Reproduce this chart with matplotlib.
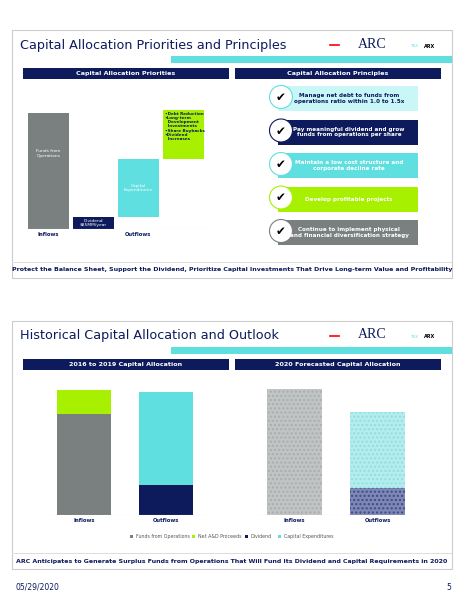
import matplotlib
matplotlib.use("Agg")
import matplotlib.pyplot as plt
from matplotlib.patches import Rectangle, Circle

W, H = 464, 600
NAVY, TEAL, GREEN, GREY = "#0d1a5c", "#5fdfe0", "#a6f000", "#7a7f80"

# slide 1 data (waterfall, arbitrary units)
wf_labels = ["Funds from\nOperations", "Dividend\n$85MM/year", "Capital\nExpenditures", ""]
wf_values = [116, 12, 58, 49]
green_text = "\u2022Debt Reduction\n\u2022Long-term\n  Development\n  Investments\n\u2022Share Buybacks\n\u2022Dividend\n  Increases"
principles = ["Manage net debt to funds from\noperations ratio within 1.0 to 1.5x",
              "Pay meaningful dividend and grow\nfunds from operations per share",
              "Maintain a low cost structure and\ncorporate decline rate",
              "Develop profitable projects",
              "Continue to implement physical\nand financial diversification strategy"]
principle_colors = ["#c9f7f7", NAVY, TEAL, GREEN, GREY]
principle_text = [NAVY, "white", "white", "white", "white"]

# slide 2 data
hist_ffo, hist_ad = 101, 24
hist_div, hist_capex = 30, 93
fc_ffo = 126
fc_div, fc_capex = 27, 76
legend_labels = ["Funds from Operations", "Net A&D Proceeds", "Dividend", "Capital Expenditures"]

fig = plt.figure(figsize=(W / 100, H / 100), dpi=100)
ax = fig.add_axes([0, 0, 1, 1])
ax.set_xlim(0, W); ax.set_ylim(H, 0); ax.axis("off")

def inset(x0, y0, x1, y1):
    a = fig.add_axes([x0 / W, 1 - y1 / H, (x1 - x0) / W, (y1 - y0) / H])
    a.axis("off")
    return a

def slide_frame(top, title, h1, h2, footer):
    ax.add_patch(Rectangle((12, top), 440, 248, fc="white", ec="#cccccc", lw=0.8))
    ax.add_patch(Rectangle((171, top + 26), 281, 7, fc=TEAL, ec="none"))
    ax.text(20, top + 15, title, fontsize=9.2, color=NAVY, va="center")
    ax.plot([330, 339], [top + 15, top + 15], color="red", lw=1.2)
    ax.text(372, top + 14, "ARC", fontsize=10, color=NAVY, va="center", ha="center", family="Liberation Serif")
    ax.text(410, top + 16, "TSX", fontsize=3, color=TEAL, va="center")
    ax.text(424, top + 16, "ARX", fontsize=3.5, color="black", va="center", weight="bold")
    for x0, t in [(23, h1), (235, h2)]:
        ax.add_patch(Rectangle((x0, top + 38), 206, 11, fc=NAVY, ec="none"))
        ax.text(x0 + 103, top + 43.5, t, fontsize=4.6, color="white", ha="center", va="center", weight="bold")
    ax.add_patch(Rectangle((12, top + 232), 440, 0.8, fc="#dddddd", ec="none"))
    ax.text(232, top + 240, footer, fontsize=4.5, color=NAVY, ha="center", va="center", weight="bold")

# ---------- slide 1 ----------
slide_frame(30, "Capital Allocation Priorities and Principles",
            "Capital Allocation Priorities", "Capital Allocation Principles",
            "Protect the Balance Sheet, Support the Dividend, Prioritize Capital Investments That Drive Long-term Value and Profitability")
a1 = inset(26, 100, 206, 229)
bottoms = [0, 0, wf_values[1], wf_values[1] + wf_values[2]]
cols = [GREY, NAVY, TEAL, GREEN]
a1.bar(range(4), wf_values, bottom=bottoms, color=cols, width=0.89)
a1.set_xlim(-0.5, 3.5); a1.set_ylim(0, 129)
a1.axhline(0, color="#cccccc", lw=0.8)
for i in range(3):
    a1.text(i, bottoms[i] + wf_values[i] * (0.65 if i == 0 else 0.5), wf_labels[i],
            fontsize=3.2, color="white", ha="center", va="center")
a1.text(2.58, bottoms[3] + wf_values[3] - 2, green_text, fontsize=3.0, color=NAVY,
        ha="left", va="top", weight="bold", linespacing=1.05)
ax.text(48, 235, "Inflows", fontsize=3.8, color=NAVY, ha="center", weight="bold", va="center")
ax.text(138, 235, "Outflows", fontsize=3.8, color=NAVY, ha="center", weight="bold", va="center")

for i, (t, c, tc) in enumerate(zip(principles, principle_colors, principle_text)):
    y = 86 + i * 33.5
    ax.add_patch(Rectangle((278, y), 140, 25, fc=c, ec="none"))
    ax.text(349, y + 12.5, t, fontsize=4.1, color=tc, ha="center", va="center", weight="bold")
    ax.add_patch(Circle((281, y + 11), 11.5, fc="white", ec=c if i else TEAL, lw=0.8))
    ax.text(281, y + 11.5, "\u2714", fontsize=8.5, ha="center", va="center", color="black")

# ---------- slide 2 ----------
slide_frame(321, "Historical Capital Allocation and Outlook",
            "2016 to 2019 Capital Allocation", "2020 Forecasted Capital Allocation",
            "ARC Anticipates to Generate Surplus Funds from Operations That Will Fund Its Dividend and Capital Requirements in 2020")
a2 = inset(43, 380, 207, 515)
a2.bar([0, 1], [hist_ffo, hist_div], color=[GREY, NAVY], width=0.67)
a2.bar([0, 1], [hist_ad, hist_capex], bottom=[hist_ffo, hist_div], color=[GREEN, TEAL], width=0.67)
a2.set_xlim(-0.5, 1.5); a2.set_ylim(0, 135)
a2.axhline(0, color="#cccccc", lw=0.8)

a3 = inset(253, 380, 419, 515)
a3.bar([0, 1], [fc_ffo, fc_div], color=["#c0c4c4", "#7f87b5"], width=0.67,
       hatch="....", edgecolor=["#a9adad", "#3a4a8a"], lw=0)
a3.bar([1], [fc_capex], bottom=[fc_div], color="#b5ecee", width=0.67,
       hatch="....", edgecolor="#8fdfe2", lw=0)
a3.set_xlim(-0.5, 1.5); a3.set_ylim(0, 135)
a3.axhline(0, color="#cccccc", lw=0.8)

for x, t in [(84, "Inflows"), (166, "Outflows"), (294, "Inflows"), (378, "Outflows")]:
    ax.text(x, 521, t, fontsize=3.8, color=NAVY, ha="center", va="center", weight="bold")
lx = [130, 192, 245, 278]
for x, t, c in zip(lx, legend_labels, [GREY, GREEN, NAVY, TEAL]):
    ax.add_patch(Rectangle((x, 534.5), 3.5, 3.5, fc=c, ec="none"))
    ax.text(x + 6, 536.5, t, fontsize=3.4, color="#555555", va="center")

ax.text(16, 587, "05/29/2020", fontsize=5.5, color=NAVY, va="center")
ax.text(446, 587, "5", fontsize=5.5, color=NAVY, va="center")

fig.savefig("out.png", dpi=100)
